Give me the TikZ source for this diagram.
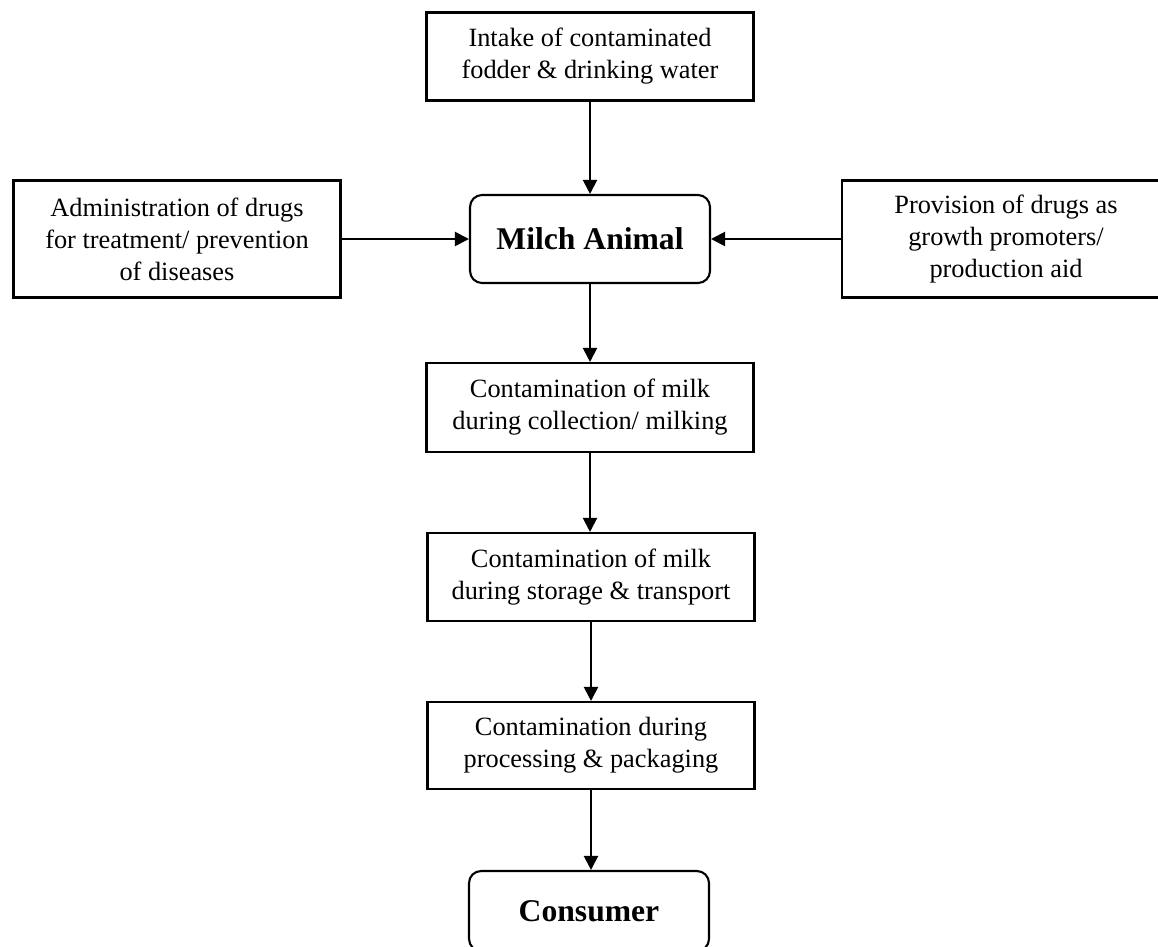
\documentclass[tikz,border=0pt]{standalone}
\usepackage{fontspec}
\setmainfont{Liberation Serif}
\usetikzlibrary{arrows.meta}
\begin{document}
\begin{tikzpicture}[x=0.02cm,y=-0.02cm,
	stepbox/.style={draw,line width=1.2pt,align=center,inner sep=0pt,font=\fontsize{15}{18.2}\selectfont,minimum width=6.54cm,minimum height=1.76cm},
	endbox/.style={draw,line width=1.2pt,rounded corners=0.24cm,inner sep=0pt,font=\bfseries\fontsize{18}{22}\selectfont,minimum width=4.8cm,minimum height=1.76cm},
	flow/.style={line width=1.2pt,-{Triangle[length=0.28cm,width=0.28cm]}}]
	\clip (0,0) rectangle (1158,946);
	\node[stepbox] (intake) at (590,56.5) {Intake of contaminated\\fodder \& drinking water};
	\node[endbox] (milch) at (590,239) {Milch Animal};
	\node[stepbox,minimum height=2.34cm] (admin) at (177,239) {Administration of drugs\\for treatment/ prevention\\of diseases};
	\node[stepbox,minimum height=2.34cm,minimum width=6.56cm] (provision) at (1006,239) {Provision of drugs as\\growth promoters/\\production aid};
	\node[stepbox,minimum height=1.78cm] (collect) at (590,407.5) {Contamination of milk\\during collection/ milking};
	\node[stepbox] (storage) at (591,577) {Contamination of milk\\during storage \& transport};
	\node[stepbox,minimum height=1.74cm] (process) at (591,745.5) {Contamination during\\processing \& packaging};
	\node[endbox,minimum height=1.6cm] (consumer) at (589,911) {Consumer};
	\draw[flow] (intake) -- (intake |- milch.north);
	\draw[flow] (admin) -- (milch);
	\draw[flow] (provision) -- (milch);
	\draw[flow] (milch) -- (milch |- collect.north);
	\draw[flow] (collect) -- (collect |- storage.north);
	\draw[flow] (storage) -- (storage |- process.north);
	\draw[flow] (process) -- (process |- consumer.north);
\end{tikzpicture}
\end{document}
